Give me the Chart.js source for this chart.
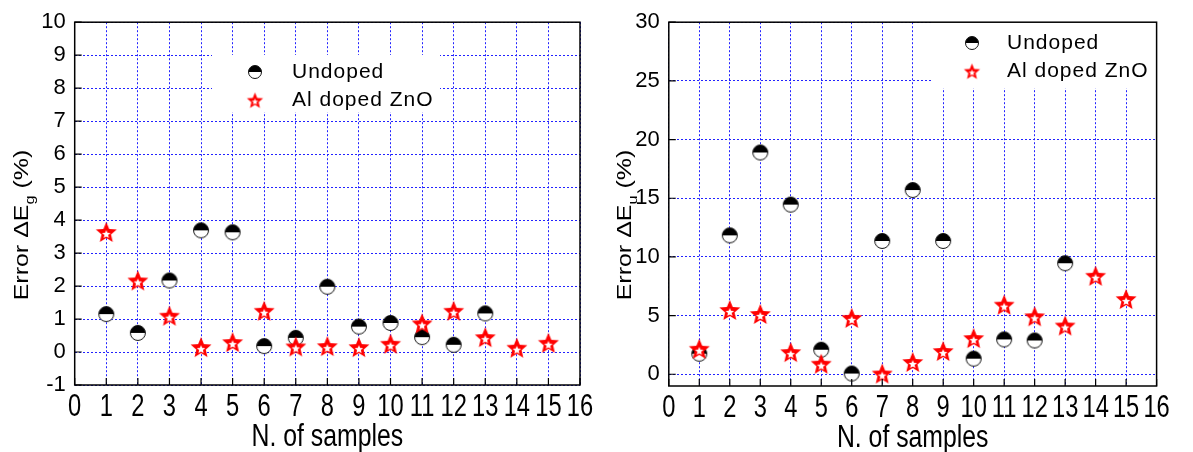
<!DOCTYPE html>
<html>
<head>
<meta charset="utf-8">
<title>Error vs samples</title>
<script src="https://cdn.jsdelivr.net/npm/chart.js@4.4.0/dist/chart.umd.min.js"></script>
<style>
    body { margin: 0; background: #fff; }
    .panel { position: absolute; top: 0; height: 452px; }
    #panelEg { left: 0; width: 596px; }
    #panelEu { left: 596px; width: 597px; }
</style>
</head>
<body>
<div class="panel" id="panelEg"><canvas id="chartEg"></canvas></div>
<div class="panel" id="panelEu"><canvas id="chartEu"></canvas></div>
<script>
/* ---------- data ---------- */
const seriesNames = ['Undoped', 'Al doped ZnO'];
const samplesUndoped = [1, 2, 3, 4, 5, 6, 7, 8, 9, 10, 11, 12, 13];
const samplesDoped = [1, 2, 3, 4, 5, 6, 7, 8, 9, 10, 11, 12, 13, 14, 15];

// band gap error (%)
const errEgUndoped = [1.15, 0.58, 2.17, 3.69, 3.63, 0.18, 0.43, 1.98, 0.77, 0.88, 0.45, 0.22, 1.17];
const errEgDoped = [3.64, 2.17, 1.10, 0.15, 0.30, 1.25, 0.17, 0.18, 0.15, 0.25, 0.87, 1.25, 0.45, 0.13, 0.28];

// Urbach energy error (%)
const errEuUndoped = [1.75, 11.84, 18.9, 14.46, 2.09, 0.06, 11.36, 15.7, 11.36, 1.33, 2.97, 2.88, 9.46];
const errEuDoped = [2.17, 5.48, 5.14, 1.89, 0.90, 4.80, 0.06, 1.05, 1.98, 3.08, 5.93, 4.94, 4.15, 8.39, 6.41];

const xTicks = [0, 1, 2, 3, 4, 5, 6, 7, 8, 9, 10, 11, 12, 13, 14, 15, 16];
const yTicksEg = [-1, 0, 1, 2, 3, 4, 5, 6, 7, 8, 9, 10];
const yTicksEu = [0, 5, 10, 15, 20, 25, 30];
const xTitle = 'N. of samples';

/* ---------- marker images ---------- */
function makeHalfCircle(r) {
    const c = document.createElement('canvas');
    const s = Math.ceil(r * 2 + 3);
    c.width = s; c.height = s;
    const g = c.getContext('2d');
    const m = s / 2;
    g.fillStyle = '#fff';
    g.beginPath(); g.arc(m, m, r, 0, Math.PI * 2); g.fill();
    g.fillStyle = '#000';
    g.beginPath(); g.arc(m, m, r, Math.PI, Math.PI * 2); g.closePath(); g.fill();
    g.strokeStyle = '#111';
    g.lineWidth = 1;
    g.beginPath(); g.arc(m, m, r, 0, Math.PI * 2); g.stroke();
    return c;
}

function starPath(g, cx, cy, R, r) {
    g.beginPath();
    for (let i = 0; i < 10; i++) {
        const a = -Math.PI / 2 + i * Math.PI / 5;
        const rad = i % 2 ? r : R;
        const px = cx + rad * Math.cos(a), py = cy + rad * Math.sin(a);
        if (i === 0) g.moveTo(px, py); else g.lineTo(px, py);
    }
    g.closePath();
}

function makeStar(R) {
    const c = document.createElement('canvas');
    const s = Math.ceil(R * 2 + 4);
    c.width = s; c.height = s;
    const g = c.getContext('2d');
    const m = s / 2;
    g.fillStyle = '#ff0000';
    starPath(g, m, m + 1, R, R * 0.45);
    g.fill();
    g.fillStyle = '#fff';
    starPath(g, m, m + R * 0.22, R * 0.4, R * 0.18);
    g.fill();
    return c;
}

const circleMark = makeHalfCircle(7.5);
const starMark = makeStar(11);
const legendCircle = makeHalfCircle(6.5);
const legendStar = makeStar(8.5);

// the x axis text in the figure is a condensed face; squeeze it horizontally
const squeeze = 0.74;

/* ---------- frame, inward ticks, legend, axis texts ---------- */
const framePlugin = {
    id: 'frame',
    beforeDatasetsDraw(chart, args, opts) {
        const ctx = chart.ctx;
        const lg = opts.legend;
        ctx.save();
        ctx.fillStyle = '#fff';
        ctx.fillRect(lg.x, lg.y, lg.w, lg.h);
        ctx.font = '21px "Liberation Sans", Arial, sans-serif';
        ctx.letterSpacing = '1px';
        ctx.fillStyle = '#000';
        ctx.textBaseline = 'middle';
        seriesNames.forEach((name, i) => {
            const img = i === 0 ? legendCircle : legendStar;
            const cy = lg.rowY[i];
            ctx.drawImage(img, lg.markX - img.width / 2, cy - img.height / 2);
            ctx.fillText(name, lg.textX, cy);
        });
        ctx.restore();
    },
    afterDraw(chart, args, opts) {
        const { ctx, chartArea: a, scales } = chart;
        ctx.save();
        ctx.strokeStyle = '#000';
        ctx.lineWidth = 1.5;
        ctx.strokeRect(a.left, a.top, a.right - a.left, a.bottom - a.top);

        // ticks point into the plot
        ctx.lineWidth = 1.2;
        ctx.beginPath();
        scales.x.ticks.forEach(t => {
            const px = scales.x.getPixelForValue(t.value);
            ctx.moveTo(px, a.bottom);
            ctx.lineTo(px, a.bottom - 7);
        });
        scales.y.ticks.forEach(t => {
            const py = scales.y.getPixelForValue(t.value);
            ctx.moveTo(a.left, py);
            ctx.lineTo(a.left + 7, py);
        });
        ctx.stroke();

        // x tick labels and x title, condensed
        ctx.fillStyle = '#000';
        ctx.textAlign = 'center';
        ctx.textBaseline = 'middle';
        ctx.font = '32px "Liberation Sans", Arial, sans-serif';
        scales.x.ticks.forEach(t => {
            const px = scales.x.getPixelForValue(t.value);
            ctx.save();
            ctx.translate(px, a.bottom + 22);
            ctx.scale(squeeze, 1);
            ctx.fillText(String(t.value), 0, 0);
            ctx.restore();
        });
        ctx.font = '31px "Liberation Sans", Arial, sans-serif';
        ctx.save();
        ctx.translate((a.left + a.right) / 2, a.bottom + 52);
        ctx.scale(0.8, 1);
        ctx.fillText(xTitle, 0, 0);
        ctx.restore();

        // rotated y title with subscript
        const t = opts.title;
        const big = '20px "Liberation Sans", Arial, sans-serif';
        const small = '13px "Liberation Sans", Arial, sans-serif';
        ctx.textAlign = 'left';
        ctx.font = big;
        const w1 = ctx.measureText(t.main).width;
        const w3 = ctx.measureText(t.tail).width;
        ctx.font = small;
        const w2 = ctx.measureText(t.sub).width;
        const total = w1 + w2 + w3;
        ctx.translate(t.x, t.y);
        ctx.rotate(-Math.PI / 2);
        ctx.scale(1.25, 1);
        ctx.textBaseline = 'alphabetic';
        let cx = -total / 2;
        ctx.font = big;
        ctx.fillText(t.main, cx, 0);
        cx += w1;
        ctx.font = small;
        ctx.fillText(t.sub, cx, 6);
        cx += w2;
        ctx.font = big;
        ctx.fillText(t.tail, cx, 0);
        ctx.restore();
    }
};

const tickFont = '"Liberation Sans", Arial, sans-serif';
const gridBlue = '#2222ff';

function toPoints(xs, ys) {
    return ys.map((v, i) => ({ x: xs[i], y: v }));
}

function buildChart(canvasId, cfg) {
    return new Chart(document.getElementById(canvasId), {
        type: 'scatter',
        data: {
            datasets: [{
                label: seriesNames[0],
                data: toPoints(samplesUndoped, cfg.undoped),
                pointStyle: circleMark,
                order: 1
            }, {
                label: seriesNames[1],
                data: toPoints(samplesDoped, cfg.doped),
                pointStyle: starMark,
                order: 0
            }]
        },
        options: {
            responsive: true,
            maintainAspectRatio: false,
            animation: false,
            layout: { padding: cfg.padding },
            plugins: {
                legend: { display: false },
                tooltip: { enabled: false },
                frame: { legend: cfg.legend, title: cfg.title }
            },
            scales: {
                x: {
                    type: 'linear',
                    min: 0, max: 16,
                    afterBuildTicks: s => { s.ticks = xTicks.map(v => ({ value: v })); },
                    afterFit: s => { s.height = cfg.xHeight; },
                    grid: { color: gridBlue, lineWidth: 1, drawTicks: false },
                    border: { display: false, dash: [2, 2] },
                    ticks: { display: false, autoSkip: false, maxRotation: 0 }
                },
                y: {
                    type: 'linear',
                    min: cfg.yMin, max: cfg.yMax,
                    afterBuildTicks: s => { s.ticks = cfg.yTicks.map(v => ({ value: v })); },
                    afterFit: s => { s.width = cfg.yWidth; },
                    grid: { color: gridBlue, lineWidth: 1, drawTicks: false },
                    border: { display: false, dash: [2, 2] },
                    ticks: { padding: 9, color: '#000', font: { family: tickFont, size: 22 } }
                }
            }
        },
        plugins: [framePlugin]
    });
}

buildChart('chartEg', {
    undoped: errEgUndoped, doped: errEgDoped,
    yMin: -1, yMax: 10, yTicks: yTicksEg,
    yWidth: 74.7, xHeight: 67,
    padding: { top: 17.6, right: 16, left: 0, bottom: 0 },
    legend: { x: 212, y: 55, w: 228, h: 57, markX: 255, textX: 292, rowY: [72, 100] },
    title: { x: 27.7, y: 225, main: 'Error \u0394E', sub: 'g', tail: ' (%)' }
});

buildChart('chartEu', {
    undoped: errEuUndoped, doped: errEuDoped,
    yMin: -1, yMax: 30, yTicks: yTicksEu,
    yWidth: 72.8, xHeight: 66,
    padding: { top: 19.3, right: 36.4, left: 0, bottom: 0 },
    legend: { x: 336, y: 20, w: 224, h: 68, markX: 376, textX: 411, rowY: [43, 71] },
    title: { x: 35, y: 225, main: 'Error \u0394E', sub: 'u', tail: ' (%)' }
});
</script>
</body>
</html>
